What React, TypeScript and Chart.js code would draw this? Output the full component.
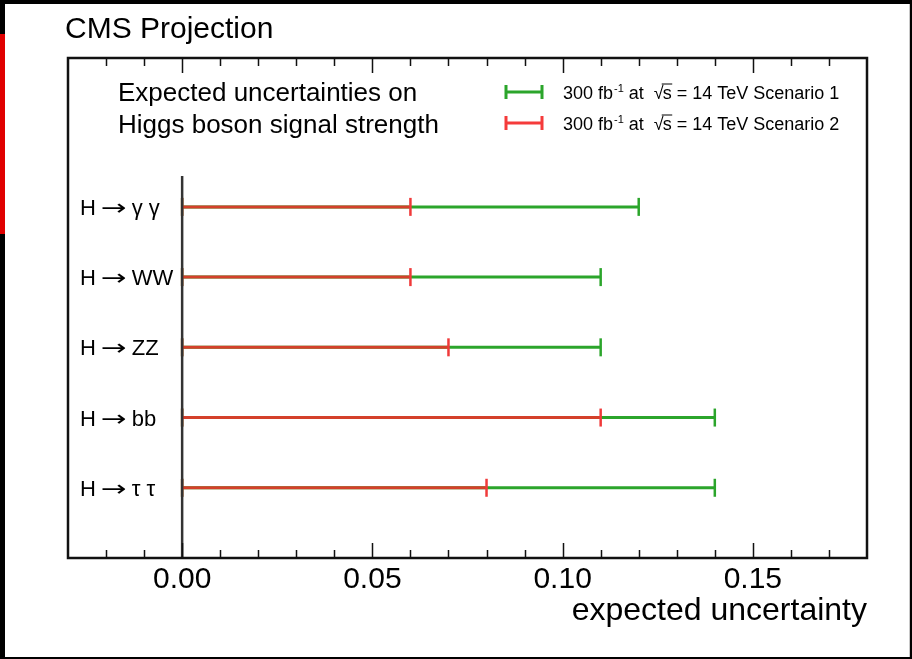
import React, { useEffect, useRef } from "react";
import { Chart, registerables } from "chart.js";

Chart.register(...registerables);

// ---- data ----
const channels = ["H → γ γ", "H → WW", "H → ZZ", "H → bb", "H → τ τ"];
const rowPositions = [5, 4, 3, 2, 1];
const scenario1 = [0.12, 0.11, 0.11, 0.14, 0.14];
const scenario2 = [0.06, 0.06, 0.07, 0.11, 0.08];
const scenarioNames = ["Scenario 1", "Scenario 2"];
const xMin = -0.03;
const xMax = 0.18;
const xStep = 0.01;
const yMin = 0;
const yMax = 7.12;
const zeroLineTop = 5.44;
const titleText = "CMS Projection";
const infoLines = ["Expected uncertainties on", "Higgs boson signal strength"];
const xAxisTitle = "expected uncertainty";

const GREEN = "#2ba52b";
const RED_LINE = "#d4402a";
const RED_CAP = "#f03a3a";
const LEGEND_RED = "#f53b3b";
const FONT = "'Liberation Sans', Arial, Helvetica, sans-serif";
const ARROW_FONT = "'DejaVu Sans', sans-serif";

function isMajor(v: number) {
  return Math.abs(Math.round(v * 100)) % 5 === 0;
}

const decorPlugin = {
  id: "decor",
  beforeDraw(chart: any) {
    const ctx = chart.ctx;
    ctx.save();
    ctx.fillStyle = "#000";
    ctx.fillRect(0, 0, chart.width, chart.height);
    ctx.fillStyle = "#e00000";
    ctx.fillRect(0, 34, 5, 200);
    ctx.fillStyle = "#fff";
    ctx.fillRect(5, 4, 905, 653);
    ctx.fillStyle = "#c8c8c8";
    ctx.fillRect(909, 4, 1, 653);
    ctx.restore();
  },
  afterDatasetsDraw(chart: any) {
    const ctx = chart.ctx;
    const { left, right, top, bottom } = chart.chartArea;
    const xs = chart.scales.x;
    const ys = chart.scales.y;
    ctx.save();
    // frame
    ctx.strokeStyle = "#111";
    ctx.lineWidth = 2.5;
    ctx.strokeRect(left, top, right - left, bottom - top);
    // inward ticks
    ctx.lineWidth = 1.5;
    xs.ticks.forEach((t: any) => {
      const v = t.value;
      if (v <= xMin + 1e-9 || v >= xMax - 1e-9) return;
      const px = Math.round(xs.getPixelForValue(v)) + 0.5;
      const len = isMajor(v) ? 15 : 8;
      ctx.beginPath();
      ctx.moveTo(px, bottom);
      ctx.lineTo(px, bottom - len);
      ctx.moveTo(px, top);
      ctx.lineTo(px, top + len);
      ctx.stroke();
    });

    // title
    ctx.fillStyle = "#000";
    ctx.textAlign = "left";
    ctx.textBaseline = "alphabetic";
    ctx.font = `30px ${FONT}`;
    ctx.fillText(titleText, 65, 38);

    // info text
    ctx.font = `26px ${FONT}`;
    ctx.fillText(infoLines[0], 118, 101);
    ctx.fillText(infoLines[1], 118, 133);

    // legend
    const legendRows = [
      { y: 92, color: GREEN, name: scenarioNames[0] },
      { y: 123, color: LEGEND_RED, name: scenarioNames[1] },
    ];
    legendRows.forEach((r) => {
      ctx.strokeStyle = r.color;
      ctx.lineWidth = 3;
      ctx.beginPath();
      ctx.moveTo(505, r.y);
      ctx.lineTo(543, r.y);
      ctx.moveTo(506, r.y - 7);
      ctx.lineTo(506, r.y + 7);
      ctx.moveTo(542, r.y - 7);
      ctx.lineTo(542, r.y + 7);
      ctx.stroke();
      let x = 563;
      const base = r.y + 6.5;
      ctx.fillStyle = "#000";
      ctx.font = `18px ${FONT}`;
      ctx.fillText("300 fb", x, base);
      x += ctx.measureText("300 fb").width;
      ctx.font = `11px ${FONT}`;
      ctx.fillText("-1", x + 1, base - 7);
      x += ctx.measureText("-1").width + 1;
      ctx.font = `18px ${FONT}`;
      ctx.fillText(" at  ", x, base);
      x += ctx.measureText(" at  ").width;
      ctx.fillText("√", x, base);
      x += ctx.measureText("√").width - 1;
      ctx.fillText("s", x, base);
      const sw = ctx.measureText("s").width;
      ctx.strokeStyle = "#000";
      ctx.lineWidth = 1;
      ctx.beginPath();
      ctx.moveTo(x - 1, base - 14.5);
      ctx.lineTo(x + sw + 0.5, base - 14.5);
      ctx.stroke();
      x += sw;
      ctx.fillText(" = 14 TeV " + r.name, x, base);
    });

    // row labels (H, arrow, final state)
    ctx.fillStyle = "#000";
    channels.forEach((c, i) => {
      const py = ys.getPixelForValue(rowPositions[i]);
      const parts = c.split("→");
      const base = py + 8;
      let x = 80;
      ctx.font = `22px ${FONT}`;
      ctx.fillText(parts[0].trim(), x, base);
      x += ctx.measureText(parts[0].trim()).width + 5;
      ctx.font = `22px ${ARROW_FONT}`;
      const aw = ctx.measureText("→").width;
      ctx.save();
      ctx.translate(x, base);
      ctx.scale(1.4, 1);
      ctx.fillText("→", 0, 0);
      ctx.restore();
      x += aw * 1.4 + 5;
      ctx.font = `22px ${FONT}`;
      ctx.fillText(parts[1].trim(), x, base);
    });
    ctx.restore();
  },
};

export default function App() {
  const ref = useRef<HTMLCanvasElement | null>(null);
  useEffect(() => {
    if (!ref.current) return;
    const datasets: any[] = [];
    // zero line
    datasets.push({
      data: [
        { x: 0, y: yMin },
        { x: 0, y: zeroLineTop },
      ],
      borderColor: "#333",
      borderWidth: 2.5,
      pointRadius: 0,
      order: 0,
    });
    channels.forEach((_, i) => {
      datasets.push({
        data: [
          { x: 0, y: rowPositions[i] },
          { x: scenario2[i], y: rowPositions[i] },
        ],
        borderColor: RED_LINE,
        borderWidth: 3,
        pointStyle: "line",
        rotation: 90,
        pointRadius: 9,
        pointBorderWidth: 2.5,
        pointBorderColor: RED_CAP,
        order: 1,
      });
      datasets.push({
        data: [
          { x: 0, y: rowPositions[i] },
          { x: scenario1[i], y: rowPositions[i] },
        ],
        borderColor: GREEN,
        borderWidth: 3,
        pointStyle: "line",
        rotation: 90,
        pointRadius: 9,
        pointBorderWidth: 2.5,
        pointBorderColor: GREEN,
        order: 2,
      });
    });
    const chart = new Chart(ref.current, {
      type: "line",
      data: { datasets },
      options: {
        animation: false,
        responsive: false,
        layout: { padding: { left: 68, right: 45, top: 58, bottom: 0 } },
        plugins: { legend: { display: false }, tooltip: { enabled: false } },
        scales: {
          x: {
            type: "linear",
            min: xMin,
            max: xMax,
            grid: { display: false, drawTicks: false },
            border: { display: false },
            ticks: {
              stepSize: xStep,
              autoSkip: false,
              maxRotation: 0,
              padding: 4,
              color: "#000",
              font: { family: FONT, size: 30 },
              callback: (v: any) => {
                const n = Number(v);
                return isMajor(n) && n >= -1e-9 && n <= 0.15 + 1e-9 ? Math.abs(n).toFixed(2) : "";
              },
            },
            title: {
              display: true,
              text: xAxisTitle,
              align: "end",
              color: "#000",
              font: { family: FONT, size: 32 },
              padding: { top: 0, bottom: 29 },
            },
            afterFit: (s: any) => {
              s.height = 101;
            },
          },
          y: {
            type: "linear",
            display: false,
            min: yMin,
            max: yMax,
          },
        },
      } as any,
      plugins: [decorPlugin],
    });
    return () => chart.destroy();
  }, []);
  return (
    <div style={{ position: "fixed", left: 0, top: 0, width: 912, height: 659 }}>
      <canvas ref={ref} width={912} height={659} style={{ width: 912, height: 659, display: "block" }} />
    </div>
  );
}
